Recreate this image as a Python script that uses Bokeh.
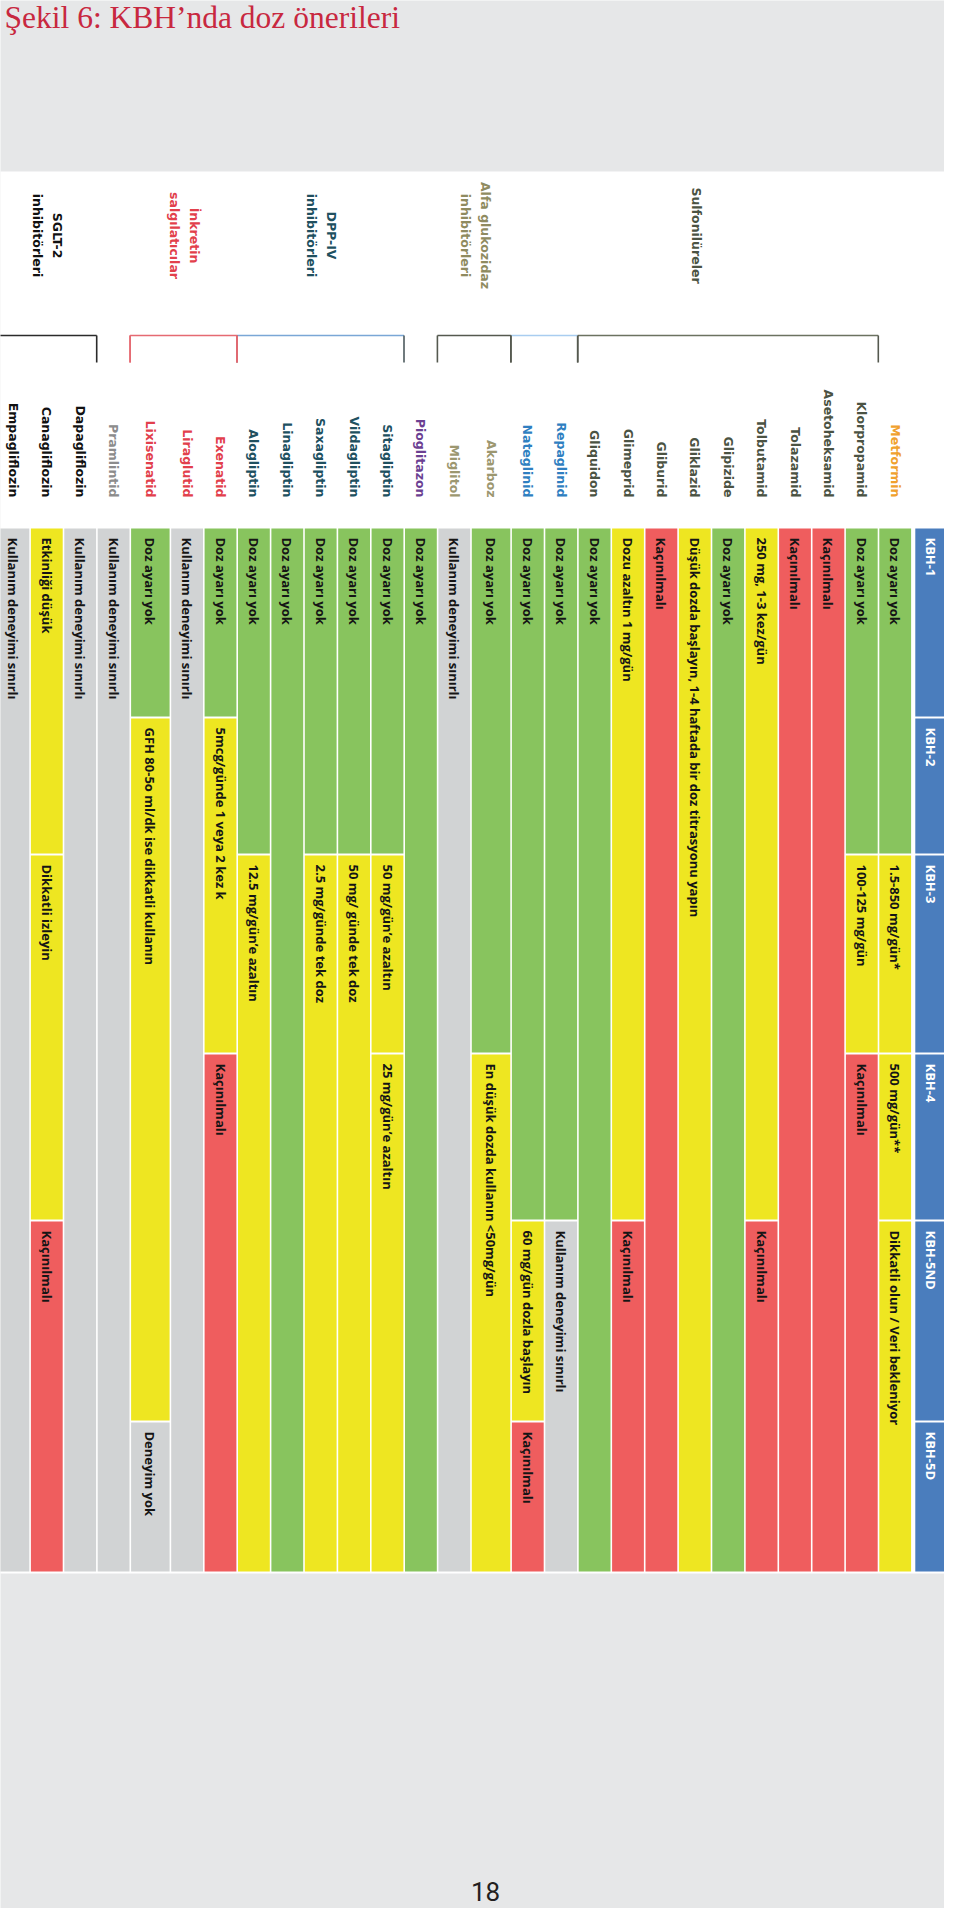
import math
from bokeh.plotting import figure
from bokeh.models import Range1d
from bokeh.embed import file_html
from bokeh.resources import INLINE
from bokeh.core.properties import value

# ---------------- data ----------------
title_text = "Şekil 6: KBH’nda doz önerileri"
page_number = "18"

stages = ["KBH-1", "KBH-2", "KBH-3", "KBH-4", "KBH-5ND", "KBH-5D"]

drugs = ["Metformin", "Klorpropamid", "Asetoheksamid", "Tolazamid", "Tolbutamid",
         "Glipizide", "Gliklazid", "Gliburid", "Glimeprid", "Gliquidon",
         "Repaglinid", "Nateglinid", "Akarboz", "Miglitol", "Pioglitazon",
         "Sitagliptin", "Vildagliptin", "Saxagliptin", "Linagliptin", "Alogliptin",
         "Exenatid", "Liraglutid", "Lixisenatid", "Pramlintid",
         "Dapagliflozin", "Canagliflozin", "Empagliflozin"]
drug_class = ["metformin", "su", "su", "su", "su", "su", "su", "su", "su", "su",
              "glinid", "glinid", "alfa", "alfa", "tzd",
              "dpp4", "dpp4", "dpp4", "dpp4", "dpp4",
              "inkretin", "inkretin", "inkretin", "amylin",
              "sglt2", "sglt2", "sglt2"]

group_class = ["su", "alfa", "dpp4", "inkretin", "sglt2"]
group_lines = [["Sulfonilüreler"], ["Alfa glukozidaz", "inhibitörleri"],
               ["DPP-IV", "inhibitörleri"], ["İnkretin", "salgılatıcılar"],
               ["SGLT-2", "inhibitörleri"]]
bracket_class = ["su", "glinid", "alfa", "dpp4", "inkretin", "sglt2"]

DAY = "Doz ayarı yok"
KAC = "Kaçınılmalı"
KDS = "Kullanım deneyimi sınırlı"
# segments: drug, first stage, last stage, status, note
seg_drug = ["Metformin", "Metformin", "Metformin", "Metformin",
            "Klorpropamid", "Klorpropamid", "Klorpropamid",
            "Asetoheksamid", "Tolazamid",
            "Tolbutamid", "Tolbutamid",
            "Glipizide", "Gliklazid", "Gliburid",
            "Glimeprid", "Glimeprid",
            "Gliquidon",
            "Repaglinid", "Repaglinid",
            "Nateglinid", "Nateglinid", "Nateglinid",
            "Akarboz", "Akarboz",
            "Miglitol", "Pioglitazon",
            "Sitagliptin", "Sitagliptin", "Sitagliptin",
            "Vildagliptin", "Vildagliptin",
            "Saxagliptin", "Saxagliptin",
            "Linagliptin",
            "Alogliptin", "Alogliptin",
            "Exenatid", "Exenatid", "Exenatid",
            "Liraglutid",
            "Lixisenatid", "Lixisenatid", "Lixisenatid",
            "Pramlintid", "Dapagliflozin",
            "Canagliflozin", "Canagliflozin", "Canagliflozin",
            "Empagliflozin"]
seg_first = [0, 2, 3, 4,
             0, 2, 3,
             0, 0,
             0, 4,
             0, 0, 0,
             0, 4,
             0,
             0, 4,
             0, 4, 5,
             0, 3,
             0, 0,
             0, 2, 3,
             0, 2,
             0, 2,
             0,
             0, 2,
             0, 1, 3,
             0,
             0, 1, 5,
             0, 0,
             0, 2, 4,
             0]
seg_last = [1, 2, 3, 5,
            1, 2, 5,
            5, 5,
            3, 5,
            5, 5, 5,
            3, 5,
            5,
            3, 5,
            3, 4, 5,
            2, 5,
            5, 5,
            1, 2, 5,
            1, 5,
            1, 5,
            5,
            1, 5,
            0, 2, 5,
            5,
            0, 4, 5,
            5, 5,
            1, 3, 5,
            5]
seg_status = ["ok", "adj", "adj", "adj",
              "ok", "adj", "avoid",
              "avoid", "avoid",
              "adj", "avoid",
              "ok", "adj", "avoid",
              "adj", "avoid",
              "ok",
              "ok", "lim",
              "ok", "adj", "avoid",
              "ok", "adj",
              "lim", "ok",
              "ok", "adj", "adj",
              "ok", "adj",
              "ok", "adj",
              "ok",
              "ok", "adj",
              "ok", "adj", "avoid",
              "lim",
              "ok", "adj", "lim",
              "lim", "lim",
              "adj", "adj", "avoid",
              "lim"]
seg_note = [DAY, "1.5-850 mg/gün*", "500 mg/gün**", "Dikkatli olun / Veri bekleniyor",
            DAY, "100-125 mg/gün", KAC,
            KAC, KAC,
            "250 mg, 1-3 kez/gün", KAC,
            DAY, "Düşük dozda başlayın, 1-4 haftada bir doz titrasyonu yapın", KAC,
            "Dozu azaltın 1 mg/gün", KAC,
            DAY,
            DAY, KDS,
            DAY, "60 mg/gün dozla başlayın", KAC,
            DAY, "En düşük dozda kullanın <50mg/gün",
            KDS, DAY,
            DAY, "50 mg/gün’e azaltın", "25 mg/gün’e azaltın",
            DAY, "50 mg/ günde tek doz",
            DAY, "2.5 mg/günde tek doz",
            DAY,
            DAY, "12.5 mg/gün’e azaltın",
            DAY, "5mcg/günde 1 veya 2 kez k", KAC,
            KDS,
            DAY, "GFH 80-5o ml/dk ise dikkatli kullanın", "Deneyim yok",
            KDS, KDS,
            "Etkinliği düşük", "Dikkatli izleyin", KAC,
            KDS]

# ---------------- styles / layout ----------------
BG = "#e6e7e8"
status_color = {"ok": "#88c45e", "adj": "#eee621", "avoid": "#ef5d5e", "lim": "#d1d3d4"}
HEADER_BLUE = "#4a7dbd"
class_color = {"metformin": "#f0a12e", "su": "#4b5343", "glinid": "#2f7fc1",
               "alfa": "#9c9770", "tzd": "#6b3f92", "dpp4": "#20505f",
               "inkretin": "#e2404c", "amylin": "#8c8c8c", "sglt2": "#111111"}
group_color = {"su": "#4b5343", "alfa": "#8f8b60", "dpp4": "#20505f",
               "inkretin": "#e2404c", "sglt2": "#111111"}
group_dx = {"su": -33, "alfa": 0, "dpp4": 0, "inkretin": 0, "sglt2": 0}
bracket_h_color = {"su": "#6b7260", "glinid": "#a9cdf0", "alfa": "#55594f",
                   "dpp4": "#7aa7d6", "inkretin": "#e56a72", "sglt2": "#2b2b2b"}
bracket_v_color = {"su": "#55594f", "glinid": "#55594f", "alfa": "#55594f",
                   "dpp4": "#4d5a5e", "inkretin": "#e56a72", "sglt2": "#2b2b2b"}

stage_edges = [535, 725, 862, 1061, 1228, 1429, 1580]
PITCH, WIDE_PITCH = 33.4, 40.1
wide_cols = {"Akarboz", "Lixisenatid"}
GAP = 1.6
LABEL_END_Y = 505
BRACKET_Y, BRACKET_Y2 = 343, 370
GROUP_CY = 243
LINE_SP = 20
ROT = -math.pi / 2

col_left, col_w = {}, {}
x = 5.0
for d in reversed(drugs):
    w = WIDE_PITCH if d in wide_cols else PITCH
    col_left[d] = x
    col_w[d] = w
    x += w
header_left = col_left["Metformin"] + 36

W, H = 944, 1908
p = figure(width=W, height=H, x_range=Range1d(8, 8 + W), y_range=Range1d(8 + H, 8),
           output_backend="svg", toolbar_location=None,
           x_axis_location=None, y_axis_location=None, min_border=0)
p.grid.visible = False
p.outline_line_color = None
p.background_fill_color = BG
p.border_fill_color = BG

# white panel
p.quad(left=[2.5], right=[959.5], top=[179], bottom=[1581], color="white", line_color=None)

# cells
L, R, T, B, C = [], [], [], [], []
tx, ty, tt = [], [], []
for d, f, l, s, n in zip(seg_drug, seg_first, seg_last, seg_status, seg_note):
    left = col_left[d]
    right = left + col_w[d] - GAP
    top = stage_edges[f] + 1
    bot = stage_edges[l + 1] - 1
    L.append(left); R.append(right); T.append(top); B.append(bot); C.append(status_color[s])
    tx.append((left + right) / 2); ty.append(top + 9); tt.append(n)
p.quad(left=L, right=R, top=T, bottom=B, fill_color=C, line_color=None)
p.text(x=tx, y=ty, text=tt, angle=ROT, text_font=value("Open Sans"),
       text_font_size="13px", text_font_style="bold", text_color="#151515",
       text_align="left", text_baseline="middle")

# header column
hl = [header_left] * len(stages)
hr = [header_left + PITCH - GAP] * len(stages)
ht = [stage_edges[i] + 1 for i in range(len(stages))]
hb = [stage_edges[i + 1] - 1 for i in range(len(stages))]
p.quad(left=hl, right=hr, top=ht, bottom=hb, fill_color=HEADER_BLUE, line_color=None)
p.text(x=[header_left + (PITCH - GAP) / 2] * len(stages), y=[t + 9 for t in ht], text=stages,
       angle=ROT, text_font=value("Open Sans"), text_font_size="13px", text_font_style="bold",
       text_color="white", text_align="left", text_baseline="middle")

# drug labels
p.text(x=[col_left[d] + (col_w[d] - GAP) / 2 for d in drugs], y=[LABEL_END_Y] * len(drugs),
       text=drugs, angle=ROT, text_font=value("DejaVu Sans"), text_font_size="12.5px",
       text_font_style="bold", text_color=[class_color[c] for c in drug_class],
       text_align="right", text_baseline="middle")

# brackets
for g in bracket_class:
    members = [d for d, c in zip(drugs, drug_class) if c == g]
    x0 = min(col_left[d] for d in members) - 1
    x1 = max(col_left[d] + col_w[d] for d in members) - 1
    p.segment(x0=[x0], y0=[BRACKET_Y], x1=[x1], y1=[BRACKET_Y],
              line_color=bracket_h_color[g], line_width=1.6)
    p.segment(x0=[x0, x1], y0=[BRACKET_Y, BRACKET_Y], x1=[x0, x1], y1=[BRACKET_Y2, BRACKET_Y2],
              line_color=bracket_v_color[g], line_width=1.6)
# redraw inkretin bracket verticals on top (shared edge)
members = [d for d, c in zip(drugs, drug_class) if c == "inkretin"]
x0 = min(col_left[d] for d in members) - 1
x1 = max(col_left[d] + col_w[d] for d in members) - 1
p.segment(x0=[x0, x1], y0=[BRACKET_Y, BRACKET_Y], x1=[x0, x1], y1=[BRACKET_Y2, BRACKET_Y2],
          line_color=bracket_v_color["inkretin"], line_width=1.6)

# group labels
gx, gy, gt, gc = [], [], [], []
for g, lines in zip(group_class, group_lines):
    members = [d for d, c in zip(drugs, drug_class) if c == g]
    x0 = min(col_left[d] for d in members)
    x1 = max(col_left[d] + col_w[d] for d in members)
    cx = (x0 + x1) / 2 + group_dx[g]
    n = len(lines)
    for i, line in enumerate(lines):
        gx.append(cx + (n - 1) / 2 * LINE_SP - i * LINE_SP)
        gy.append(GROUP_CY); gt.append(line); gc.append(group_color[g])
p.text(x=gx, y=gy, text=gt, angle=ROT, text_font=value("DejaVu Sans"), text_font_size="12.5px",
       text_font_style="bold", text_color=gc, text_align="center", text_baseline="middle")

# title and page number
p.text(x=[12], y=[25], text=[title_text], text_font=value("Liberation Serif"),
       text_font_size="31.5px", text_color="#c8283f", text_align="left", text_baseline="alphabetic")
p.text(x=[493], y=[1899], text=[page_number], text_font=value("Roboto"),
       text_font_size="26px", text_color="#231f20", text_align="center", text_baseline="alphabetic")

html = file_html(p, INLINE, title="KBH doz önerileri")
html = html.replace("<body", '<body style="background:#e6e7e8;margin:8px"', 1)
with open("out.html", "w") as fh:
    fh.write(html)
